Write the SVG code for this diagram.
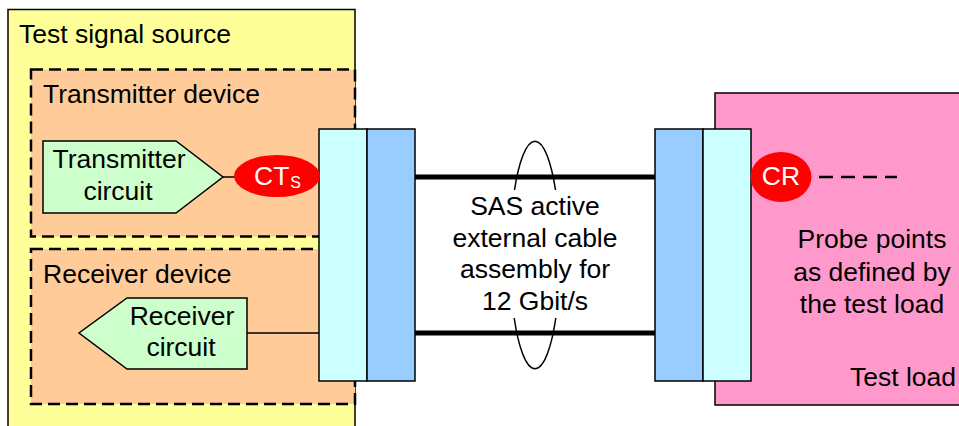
<svg xmlns="http://www.w3.org/2000/svg" width="959" height="426" viewBox="0 0 959 426">
<style>
text{font-family:"Liberation Sans",Arial,sans-serif;font-size:26.5px;fill:#000}
.w{fill:#fff}
.box{stroke:#000;stroke-width:1.5}
.dash{fill:#FFCC99;stroke:#000;stroke-width:2.5;stroke-dasharray:12 6}
.thin{stroke:#000;stroke-width:1.5;fill:none}
.cable{stroke:#000;stroke-width:5;stroke-linecap:round;fill:none}
</style>
<rect width="959" height="426" fill="#fff"/>
<g id="test-signal-source">
<rect class="box" x="8" y="9.5" width="347" height="440" fill="#FFFF99"/>
<text x="19" y="43">Test signal source</text>
</g>
<g id="transmitter-device">
<rect class="dash" x="31" y="69.5" width="324" height="167"/>
<text x="43" y="103">Transmitter device</text>
</g>
<g id="receiver-device">
<rect class="dash" x="31" y="249" width="324" height="155"/>
<text x="43" y="283">Receiver device</text>
</g>
<g id="test-load">
<rect class="box" x="715" y="93" width="260" height="312" fill="#FF99CC"/>
<text x="956" y="386" text-anchor="end">Test load</text>
<text x="872" y="248" text-anchor="middle">Probe points</text>
<text x="872" y="281" text-anchor="middle">as defined by</text>
<text x="872" y="313" text-anchor="middle">the test load</text>
</g>
<g id="connectors">
<line class="thin" x1="223" y1="177" x2="236" y2="177"/>
<line class="thin" x1="247" y1="333" x2="319" y2="333"/>
<line class="cable" x1="415" y1="177" x2="655" y2="177"/>
<line class="cable" x1="415" y1="333" x2="655" y2="333"/>
<path class="thin" d="M514.5,190 A25,114 0 0 1 555.5,190"/>
<path class="thin" d="M514.2,318 A25,114 0 0 0 555.8,318"/>
<line x1="819" y1="177" x2="897" y2="177" stroke="#000" stroke-width="2.5" stroke-dasharray="14 8"/>
</g>
<g id="left-connector">
<rect class="box" x="319" y="129" width="48" height="252" fill="#CCFFFF"/>
<rect class="box" x="367" y="129" width="48" height="252" fill="#99CCFF"/>
</g>
<g id="right-connector">
<rect class="box" x="655" y="129" width="48" height="252" fill="#99CCFF"/>
<rect class="box" x="703" y="129" width="48" height="252" fill="#CCFFFF"/>
</g>
<g id="transmitter-circuit">
<polygon class="box" points="43,141 176,141 223,177 176,213 43,213" fill="#CCFFCC"/>
<text x="119" y="168" text-anchor="middle">Transmitter</text>
<text x="118" y="200" text-anchor="middle">circuit</text>
</g>
<g id="receiver-circuit">
<polygon class="box" points="247,298 127,298 79,333 127,369 247,369" fill="#CCFFCC"/>
<text x="182" y="325" text-anchor="middle">Receiver</text>
<text x="181" y="356" text-anchor="middle">circuit</text>
</g>
<g id="cts">
<ellipse cx="277" cy="176" rx="43" ry="21" fill="#FF0000"/>
<text class="w" x="254" y="185">CT<tspan font-size="16" dx="1" dy="3">S</tspan></text>
</g>
<g id="cr">
<ellipse cx="781" cy="177" rx="30.5" ry="25" fill="#FF0000"/>
<text class="w" x="781" y="185" text-anchor="middle">CR</text>
</g>
<g id="cable-label">
<text x="535" y="215" text-anchor="middle">SAS active</text>
<text x="535" y="247" text-anchor="middle">external cable</text>
<text x="535" y="278" text-anchor="middle">assembly for</text>
<text x="535" y="310" text-anchor="middle">12 Gbit/s</text>
</g>
</svg>
